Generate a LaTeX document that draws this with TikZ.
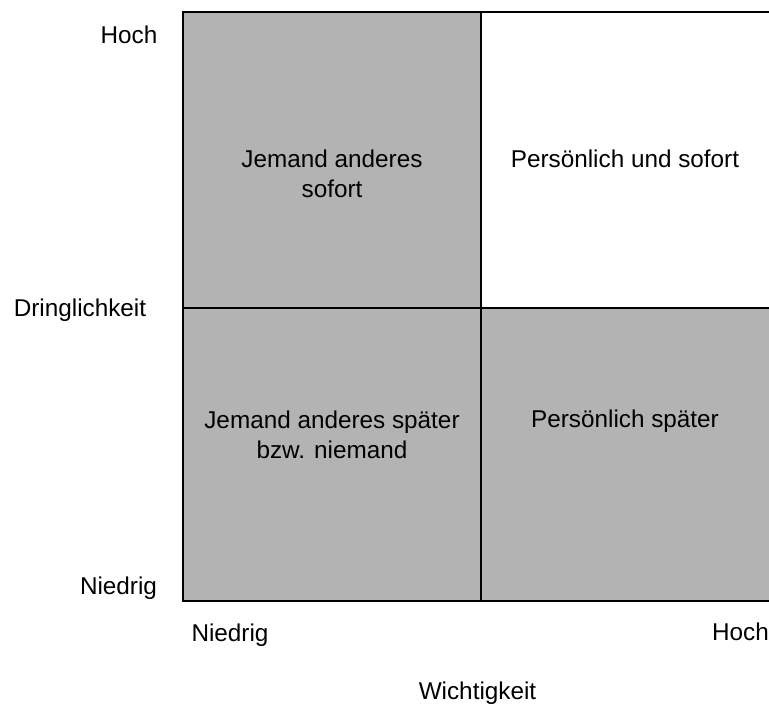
\documentclass[tikz,border=0pt]{standalone}
\usepackage{fontspec}
\setmainfont{Liberation Sans}
\definecolor{cellgray}{HTML}{B3B3B3}
\tikzset{
  cell/.style={draw, line width=2pt, fill=cellgray, inner sep=0pt,
    minimum width=#1, minimum height=296pt},
  lbl/.style={font=\fontsize{24.3}{30}\selectfont, anchor=base, inner sep=0pt,
    align=center}
}

\begin{document}
\begin{tikzpicture}[x=1pt, y=-1pt]
  \useasboundingbox (0, 0) rectangle (769, 704);

  \node[cell=298pt] at (332, 160) (jemsof) {};
  \node[cell=290pt, fill=white] at (626, 160) (perssof) {};
  \node[cell=298pt, minimum height=293pt] at (332, 454.5) (jemspaet) {};
  \node[cell=290pt, minimum height=293pt] at (626, 454.5) (persspaet) {};

  \node[lbl] at (332, 197) (tjemsof) {Jemand anderes\\sofort};
  \node[lbl] at (625, 167) (tperssof) {Persönlich und sofort};
  \node[lbl] at (332, 458) (tjemspaet) {Jemand anderes später\\bzw. niemand};
  \node[lbl] at (625, 427) (tpersspaet) {Persönlich später};

  \node[lbl] at (129, 43) (hochy) {Hoch};
  \node[lbl] at (80, 316) (dring) {Dringlichkeit};
  \node[lbl] at (118.5, 594) (niedrigy) {Niedrig};
  \node[lbl] at (230, 641) (niedrigx) {Niedrig};
  \node[lbl] at (740.5, 640) (hochx) {Hoch};
  \node[lbl] at (477.5, 699) (wicht) {Wichtigkeit};
\end{tikzpicture}
\end{document}
